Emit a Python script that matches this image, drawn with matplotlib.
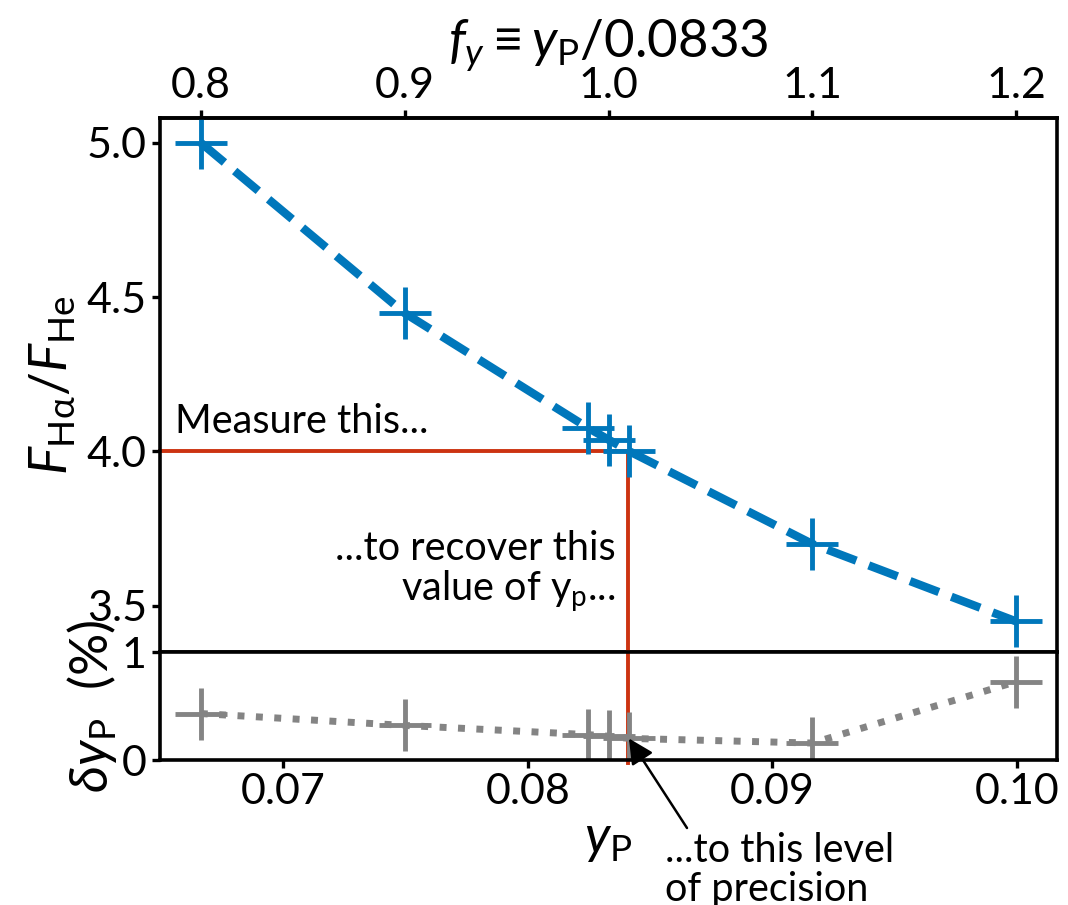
import numpy as np
import matplotlib
matplotlib.use('Agg')
import matplotlib.pyplot as plt

plt.rcParams['font.family'] = ['Lato', 'DejaVu Sans']
plt.rcParams['mathtext.fontset'] = 'custom'
plt.rcParams['mathtext.rm'] = 'Lato'
plt.rcParams['mathtext.it'] = 'Lato:italic'
plt.rcParams['mathtext.bf'] = 'Lato:bold'
plt.rcParams['font.size'] = 31
plt.rcParams['axes.labelsize'] = 38
plt.rcParams['axes.linewidth'] = 2.6
plt.rcParams['xtick.major.width'] = 2.4
plt.rcParams['ytick.major.width'] = 2.4
plt.rcParams['xtick.major.size'] = 6
plt.rcParams['ytick.major.size'] = 6

# data
yp_ref = 0.0833
fy = [0.8, 0.9, 0.99, 1.0, 1.01, 1.1, 1.2]
flux_ratio = [5.0, 4.448, 4.076, 4.038, 4.001, 3.70, 3.449]
dyp = [0.43, 0.32, 0.235, 0.22, 0.20, 0.157, 0.725]
measured_ratio = 4.0
yp_measured = 0.0841
top_ticks = [0.8, 0.9, 1.0, 1.1, 1.2]
bottom_ticks = [0.07, 0.08, 0.09, 0.10]
bottom_ticklabels = ['0.07', '0.08', '0.09', '0.10']

yp = np.array(fy) * yp_ref

blue = '#0077BB'
grey = '#848484'
red = '#CC3311'

fig = plt.figure(figsize=(10.68, 9.05), dpi=100)
ax1 = fig.add_axes([160/1068, 253/905, 897/1068, 534/905])
ax2 = fig.add_axes([160/1068, 145/905, 897/1068, 108/905], sharex=ax1)

ax1.plot(yp, flux_ratio, '--', color=blue, lw=6, marker='+', ms=38, mew=3.5)
ax1.set_ylim(3.35, 5.08)
ax1.set_yticks([3.5, 4.0, 4.5, 5.0])
ax1.set_ylabel(r'$F_{\rm H\alpha}/F_{\rm He}$', labelpad=6)
ax1.tick_params(bottom=False, labelbottom=False)

xlo = yp.min() - 0.05 * (yp.max() - yp.min())
xhi = yp.max() + 0.05 * (yp.max() - yp.min())
ax1.set_xlim(xlo, xhi)

# red guide lines
ax1.plot([xlo, yp_measured, yp_measured], [measured_ratio, measured_ratio, 3.35],
         color=red, lw=2.8, zorder=1, clip_on=False)
ax2.plot([yp_measured, yp_measured], [-0.03, 1.0], color=red, lw=2.8, zorder=1,
         clip_on=False)

ax1.text(0.0656, 4.058, 'Measure this...', fontsize=28.5, va='baseline', ha='left')
ax1.text(0.0836, 3.745, '...to recover this\nvalue of y$_{\\rm p}$...', fontsize=28.5,
         va='top', ha='right', linespacing=1.05)

secax = ax1.secondary_xaxis('top', functions=(lambda x: x / yp_ref, lambda f: f * yp_ref))
secax.set_xticks(top_ticks)
secax.set_xlabel(r'$f_y \equiv y_{\rm P}/0.0833$', labelpad=7)

ax2.plot(yp, dyp, ':', color=grey, lw=5, marker='+', ms=38, mew=3.5)
ax2.set_ylim(0, 1)
ax2.set_yticks([0, 1])
ax2.set_xticks(bottom_ticks)
ax2.set_xticklabels(bottom_ticklabels)
ax2.set_xlabel(r'$y_{\rm P}$', labelpad=4)
ax2.set_ylabel(r'$\delta y_{\rm P}\ $ (%)', labelpad=2)

ax2.annotate('', xy=(yp[4], dyp[4]), xycoords='data',
             xytext=(687/1068, 77/905), textcoords='figure fraction',
             arrowprops=dict(arrowstyle='-|>', color='k', lw=1.8,
                             mutation_scale=38, shrinkA=0, shrinkB=0))
fig.text(665/1068, 1 - 832/905, '...to this level\nof precision', fontsize=28.5,
         va='top', ha='left', linespacing=1.05)

fig.savefig('out.png', dpi=100)
